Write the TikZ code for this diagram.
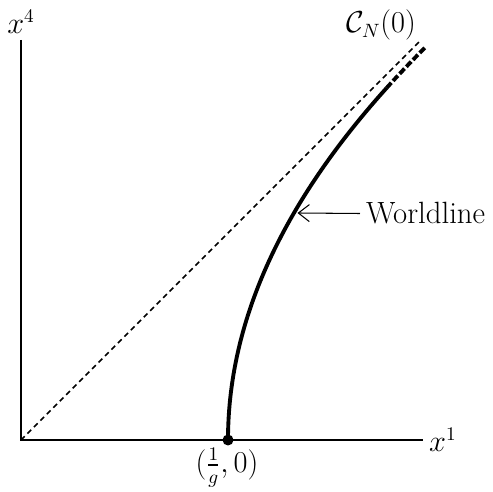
\documentclass[tikz,border=0pt]{standalone}
\usepackage{amsmath}
\usetikzlibrary{arrows.meta,positioning}

\begin{document}
\begin{tikzpicture}[
  every node/.style={font=\fontsize{16}{19}\selectfont},
  axis/.style={line width=1.1pt},
  cone/.style={line width=0.9pt,dash pattern=on 3pt off 2.2pt},
  wline/.style={line width=2.2pt},
  wdash/.style={line width=2.2pt,dash pattern=on 4pt off 1.5pt},
  ar/.style={-{Straight Barb[length=2.2mm,width=3.4mm]},line width=0.6pt}]
\useasboundingbox (-0.42,-1.04) rectangle (9.44,8.8);
\coordinate (o) at (0,0);
\coordinate (xend) at (8.04,0);
\coordinate (yend) at (0,8.0);
\coordinate (cend) at (7.96,7.96);
\coordinate (wtip) at (5.53,4.54);
\node[anchor=west] (x1) at (xend) {$x^1$};
\node[anchor=south] (x4) at (yend) {$x^4$};
\node (cn) at (7.2,8.3) {$\mathcal{C}_N(0)$};
\node[circle,fill=black,inner sep=0pt,minimum size=2.2mm] (p) at (4.14,0) {};
\node (pl) at (4.12,-0.55) {$(\frac{1}{g},0)$};
\node[anchor=west,font=\fontsize{17.5}{20}\selectfont] (wl) at (6.78,4.53) {Worldline};
\draw[axis] (yend) -- (o) -- (xend);
\draw[cone] (o) -- (cend);
% worldline, solid then dashed near the cone
\draw[wline] (p.center) plot[domain=0:7.04,samples=60] ({4.14+0.064*\x*\x},\x);
\draw[wdash] plot[domain=7.04:7.86,samples=10] ({4.14+0.064*\x*\x},\x);
\draw[ar] (wl.west) -- (wtip);
\end{tikzpicture}
\end{document}
